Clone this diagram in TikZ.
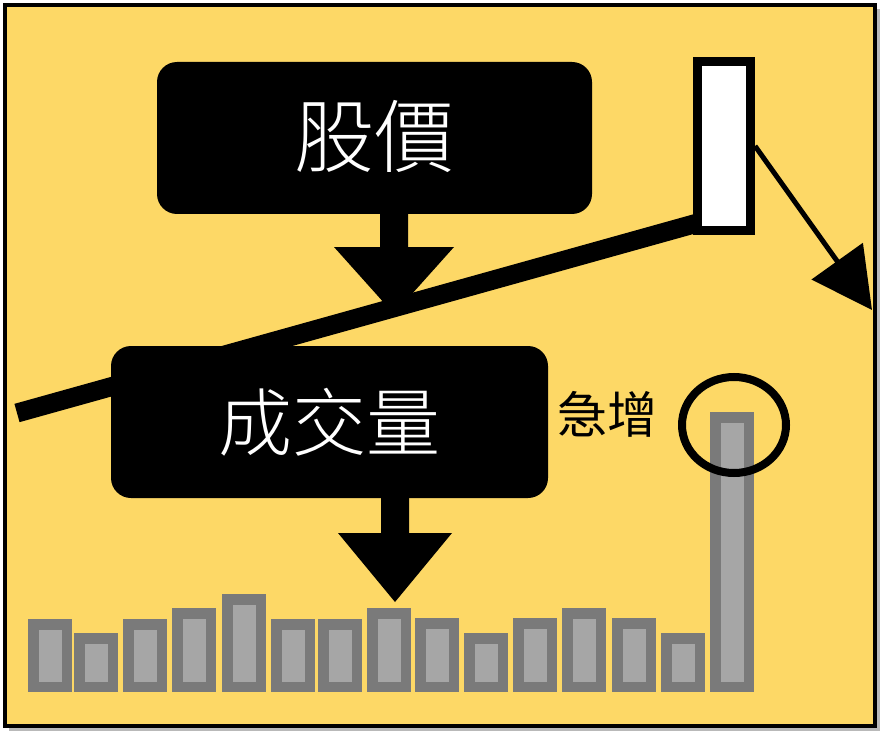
\documentclass[tikz,border=0pt]{standalone}
\usepackage{fontspec}
\IfFontExistsTF{Noto Sans CJK TC Light}
  {\newfontfamily\cjklight{Noto Sans CJK TC Light}}
  {\newfontfamily\cjklight{Noto Sans CJK TC}}
\newfontfamily\cjk{Noto Sans CJK TC}
\usetikzlibrary{arrows.meta,shapes.geometric}
\definecolor{bg}{RGB}{253,216,102}
\definecolor{bardark}{RGB}{122,122,122}
\definecolor{barlight}{RGB}{166,166,166}
\begin{document}
\begin{tikzpicture}[x=1pt,y=-1pt,
  box/.style={fill=black, rounded corners=20pt, inner sep=0pt, text=white},
  blockarrow/.style={fill=black},
  barout/.style={fill=bardark},
  barin/.style={fill=barlight}]
\useasboundingbox (0,0) rectangle (886,738);
% frame with shadow
\fill[gray!55] (9,9) rectangle (880,731);
\draw[line width=4pt, fill=bg] (5,5) rectangle (875,726);
% volume bars
\foreach \x/\t in {28/619, 74/633, 123/619, 172/608, 222/594, 271/619, 318/619, 367/608, 415/618, 464/633, 513/618, 562/608, 612/618, 661/633, 710/412} {
  \fill[barout] (\x,\t) rectangle (\x+44,692);
  \fill[barin] (\x+10.5,\t+10.5) rectangle (\x+33.5,681.5);
}
% price box
\node[box, minimum width=435pt, minimum height=152pt,
      font=\cjklight\fontsize{80}{80}\selectfont] (b1) at (374.5,138) {\raisebox{10pt}{股價}};
% arrow price -> volume
\fill[blockarrow] (380,214) -- (380,247) -- (334,247) -- (394,314) -- (454,247) -- (408,247) -- (408,214) -- cycle;
% candle
\node[draw, line width=9pt, fill=white, minimum width=53pt, minimum height=169pt, inner sep=0pt] (candle) at (724,146) {};
% trend line
\coordinate (lstart) at (17,413);
\coordinate (lend) at (697.5,223);
\draw[line width=19pt] (lstart) -- (lend);
% volume box
\node[box, minimum width=437pt, minimum height=152pt,
      font=\cjklight\fontsize{74}{74}\selectfont] (b2) at (329.5,422) {成交量};
% arrow volume -> bars
\fill[blockarrow] (381,498) -- (381,533) -- (338,533) -- (395,602) -- (452,533) -- (409,533) -- (409,498) -- cycle;
% thin arrow from candle
\coordinate (tip) at (872,310);
\draw[line width=5pt, -{Triangle[length=60pt,width=62pt]}] (candle.east) -- (tip);
% circle
\node[draw, ellipse, line width=8pt, minimum width=104pt, minimum height=96pt, inner sep=0pt] (ring) at (734,425) {};
% label
\node[font=\cjk\fontsize{50}{50}\selectfont, inner sep=0pt] (surge) at (607,414) {急增};
\end{tikzpicture}
\end{document}
